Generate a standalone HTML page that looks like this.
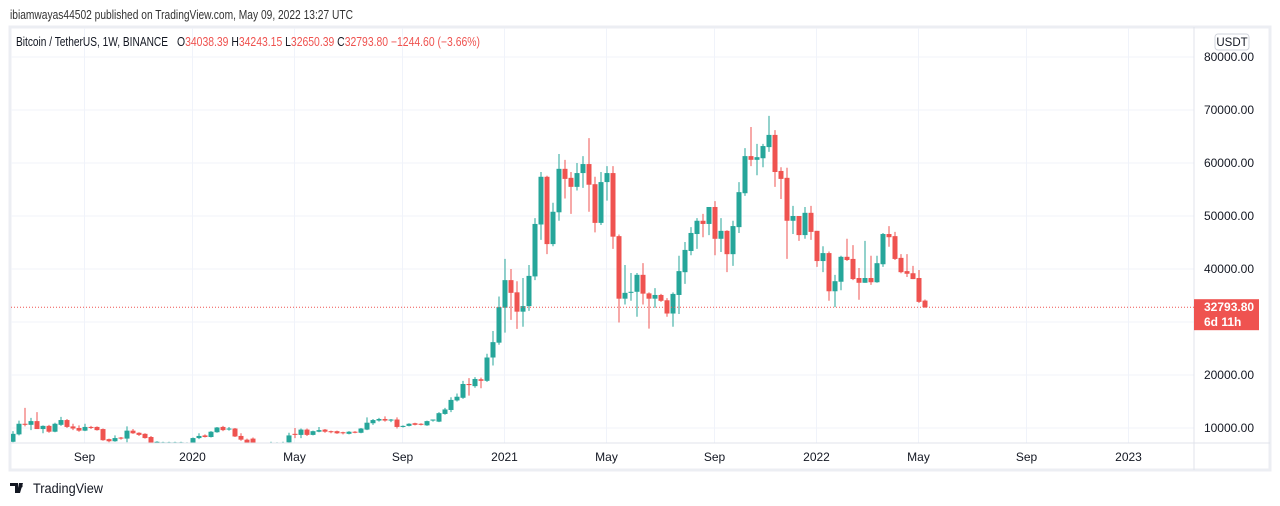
<!DOCTYPE html>
<html><head><meta charset="utf-8"><style>
body{margin:0;width:1280px;height:506px;background:#fff;font-family:"Liberation Sans",sans-serif;overflow:hidden}
</style></head><body>
<svg id="chart" width="1280" height="506" xmlns="http://www.w3.org/2000/svg" style="display:block">
<text x="10" y="19" font-size="12.5" fill="#333" textLength="343" lengthAdjust="spacingAndGlyphs">ibiamwayas44502 published on TradingView.com, May 09, 2022 13:27 UTC</text>
<rect x="10" y="27" width="1260" height="443" fill="#fff" stroke="#eceef3" stroke-width="3"/>
<g id="grid"></g>
<g id="candles"></g>
<line x1="1194" y1="27" x2="1194" y2="470" stroke="#e0e3eb"/>
<line x1="10" y1="443" x2="1270" y2="443" stroke="#e0e3eb"/>
<g id="yaxis"></g>
<g id="xaxis"></g>
<rect x="1215" y="34" width="34" height="16" rx="3" fill="#fff" stroke="#d1d4dc"/>
<text x="1232" y="46" font-size="11.5" fill="#131722" text-anchor="middle">USDT</text>
<text x="16" y="46" font-size="12.5" fill="#131722" textLength="152" lengthAdjust="spacingAndGlyphs">Bitcoin / TetherUS, 1W, BINANCE</text>
<text x="177" y="46" font-size="12.5" fill="#131722" textLength="303" lengthAdjust="spacingAndGlyphs">O<tspan fill="#ef5350">34038.39</tspan>  H<tspan fill="#ef5350">34243.15</tspan>  L<tspan fill="#ef5350">32650.39</tspan>  C<tspan fill="#ef5350">32793.80  −1244.60 (−3.66%)</tspan></text>
<g id="lastprice"></g>
<g>
<path d="M10 483h8v10h-3v-7h-5z M19 483h4l-3 10h-3z" fill="#131722"/>
<circle cx="21" cy="486" r="1.6" fill="#131722"/>
<text x="33" y="493" font-size="13.5" fill="#131722" textLength="70" lengthAdjust="spacingAndGlyphs">TradingView</text>
</g>
</svg>
<script>
const opens=[7.4,8.8,10.8,10.6,11.3,9.8,10.4,9.3,10.6,11.5,10.3,10.0,9.5,10.2,10.2,9.8,7.9,7.5,8.2,8.0,9.5,9.1,8.9,8.3,7.0,7.3,7.3,7.2,7.3,7.2,7.2,8.1,8.6,8.3,9.2,10.2,9.7,9.9,8.5,7.8,
8.0,5.4,5.8,5.9,6.8,6.9,7.3,8.9,8.7,9.7,8.7,9.3,9.7,9.4,9.4,9.2,8.9,9.3,9.1,9.7,10.9,11.4,11.7,11.4,11.6,10.2,10.4,10.9,10.8,10.5,
11.4,11.2,12.65,13.4,15.2,15.7,18.3,17.9,19.2,18.9,23.3,26.1,32.7,37.9,35.6,31.95,33.0,38.6,48.4,57.4,44.7,50.7,58.9,57.2,55.5,58.1,59.8,56.0,48.7,56.4,
58.1,46.2,34.4,35.5,35.7,38.9,35.4,34.4,35.1,34.1,31.6,35.1,39.4,43.4,46.6,49.1,48.5,51.7,45.7,47.2,42.8,47.9,54.3,61.3,60.6,60.9,63.0,65.3,58.5,57.2,
49.1,50.0,46.4,50.6,47.2,41.5,43.0,35.8,37.6,42.3,41.9,38.3,37.4,38.3,37.5,40.9,46.6,46.2,42.1,39.6,39.2,38.3,34.04];
const highs=[9.4,11.4,13.8,11.9,13.0,10.5,10.6,11.0,12.1,11.7,10.8,10.5,10.8,10.4,10.3,9.9,8.0,8.6,8.3,10.3,9.8,9.2,9.0,8.5,7.5,7.4,7.4,7.4,7.4,7.3,8.2,9.0,8.8,9.4,10.2,10.4,10.2,10.0,9.0,8.0,
8.2,6.0,6.5,7.4,7.3,7.4,9.1,10.0,9.9,9.9,9.5,10.2,9.8,9.5,9.5,9.3,9.4,9.4,10.0,12.0,11.7,11.9,12.2,11.7,12.0,10.5,10.9,11.0,10.9,11.4,
11.6,13.0,13.8,15.8,16.5,18.9,19.4,19.6,19.5,24.0,28.3,34.8,41.9,40.0,37.7,38.3,40.75,49.6,58.3,57.6,52.5,61.7,60.6,58.3,60.0,61.3,64.7,57.4,58.3,59.4,
59.4,46.5,40.75,39.25,39.25,41.1,35.6,36.4,35.3,34.5,35.6,42.5,45.1,47.9,49.6,50.4,51.7,52.8,49.6,47.3,49.1,56.4,62.8,66.8,63.6,63.6,68.9,66.2,59.2,59.1,
51.9,50.0,51.7,51.9,47.2,44.3,43.3,38.9,42.5,45.7,44.5,40.2,45.3,42.5,42.5,46.8,48.1,47.0,42.8,42.8,40.6,39.8,34.24];
const lows=[7.3,8.6,10.3,9.6,9.8,9.0,9.1,9.2,10.4,10.0,9.6,9.3,9.4,9.8,9.5,7.6,7.3,7.4,7.8,7.3,8.9,8.5,8.0,7.0,6.8,7.0,7.0,7.0,7.0,7.0,7.1,7.9,8.2,8.2,9.1,9.4,9.5,8.3,7.6,7.0,
4.0,4.5,5.6,5.8,6.6,6.6,7.1,8.1,8.1,8.5,8.6,9.2,9.1,9.0,8.9,8.8,8.8,9.0,9.0,9.6,10.6,11.2,11.2,11.1,9.9,10.1,10.3,10.5,10.5,10.4,
11.2,11.1,12.5,13.0,15.0,15.5,16.1,17.6,17.5,18.7,21.8,25.7,28.0,30.4,28.7,29.1,32.1,37.9,45.5,42.8,44.3,49.1,53.3,50.4,54.8,55.3,50.8,46.9,48.3,52.9,
43.8,29.9,33.3,34.0,31.0,33.3,28.75,32.7,33.8,31.0,29.1,31.5,37.2,42.6,43.8,46.0,46.4,42.6,43.2,39.4,40.6,46.8,53.8,59.4,57.7,59.2,62.1,55.5,53.2,41.9,
46.6,45.3,45.7,45.5,40.4,39.4,34.0,32.8,36.0,41.5,37.9,34.2,37.4,37.0,37.4,40.4,44.2,41.7,39.2,38.5,38.1,33.6,32.65];
const closes=[8.9,10.8,10.6,11.3,9.8,10.4,9.3,10.8,11.5,10.2,9.9,9.5,10.2,10.0,9.6,7.7,7.5,8.1,8.0,9.5,9.0,8.7,8.1,7.2,7.4,7.3,7.3,7.3,7.3,7.2,8.1,8.5,8.3,9.3,10.1,9.6,9.9,8.4,7.8,7.2,
5.4,5.8,5.9,6.8,6.9,7.1,8.6,8.7,9.7,8.7,9.4,9.6,9.3,9.2,9.0,9.0,9.3,9.1,9.9,11.0,11.5,11.7,11.4,11.6,10.2,10.4,10.8,10.6,10.6,11.3,
11.6,12.8,13.5,15.3,15.9,18.3,18.1,19.25,18.9,23.3,26.2,32.8,37.9,35.5,31.95,33.0,38.7,48.5,57.4,44.7,50.8,58.9,57.0,55.5,58.1,59.8,55.9,48.7,56.4,58.1,
46.1,34.4,35.5,35.7,38.9,35.35,34.4,35.1,34.0,31.6,35.3,39.6,43.6,46.8,49.1,48.5,51.7,45.7,47.2,42.8,48.1,54.5,61.3,60.6,61.1,63.2,65.3,58.3,57.0,49.1,
50.0,46.4,50.6,47.0,41.5,43.0,35.8,37.7,42.3,41.7,38.1,37.4,38.3,37.5,41.1,46.6,46.0,41.9,39.4,39.1,38.1,33.8,32.79];
const priceTicks=[10000,20000,30000,40000,50000,60000,70000,80000];
const priceLabels=["10000.00","20000.00","","40000.00","50000.00","60000.00","70000.00","80000.00"];
const timeTicks=[12,30,47,65,82,99,117,134,151,169,186];
const timeLabels=["Sep","2020","May","Sep","2021","May","Sep","2022","May","Sep","2023"];
const lastPrice=32793.80;

const NS="http://www.w3.org/2000/svg";
function yScale(p){return 428-(p-10000)*0.0053;}
function xScale(i){return 13+6*i;}
function mk(tag,attrs,parent){const e=document.createElementNS(NS,tag);for(const k in attrs)e.setAttribute(k,attrs[k]);parent.appendChild(e);return e;}
const grid=document.getElementById('grid'),yax=document.getElementById('yaxis'),xax=document.getElementById('xaxis');
priceTicks.forEach((p,j)=>{
  const y=yScale(p);
  const l=mk('line',{x1:11,x2:1194,y1:y,y2:y,stroke:'#f0f3fa'},grid);
  
  
  if(priceLabels[j]){const t=mk('text',{x:1254,y:y+4,'font-size':12,fill:'#131722','text-anchor':'end'},yax);t.textContent=priceLabels[j];
  
  }
});
timeTicks.forEach((w,j)=>{
  const x=xScale(w)-0.5;
  const l=mk('line',{x1:x,x2:x,y1:28,y2:443,stroke:'#f0f3fa'},grid);
  
  
  const t=mk('text',{x:x,y:461,'font-size':12,fill:'#131722','text-anchor':'middle'},xax);t.textContent=timeLabels[j];
  
  
});
const cg=document.getElementById('candles');
const clip=mk('clipPath',{id:'pc'},cg);mk('rect',{x:11,y:28,width:1183,height:415},clip);
cg.setAttribute('clip-path','url(#pc)');
for(let i=0;i<opens.length;i++){
  const o=opens[i]*1000,h=highs[i]*1000,l=lows[i]*1000,c=closes[i]*1000;
  const col=c>=o?'#26a69a':'#ef5350';const x=xScale(i);
  const g=mk('g',{},cg);
  
  
  mk('line',{x1:x,x2:x,y1:yScale(h),y2:yScale(l),stroke:col,'stroke-width':1},g);
  const top=Math.min(yScale(o),yScale(c));const ht=Math.max(1,Math.abs(yScale(o)-yScale(c)));
  mk('rect',{x:x-2.5,y:top,width:5,height:ht,fill:col},g);
}
const lp=document.getElementById('lastprice');const ly=yScale(lastPrice);
const ln=mk('line',{x1:11,x2:1194,y1:ly,y2:ly,stroke:'#ef5350','stroke-dasharray':'1 2'},lp);


const bx=mk('rect',{x:1194,y:ly-8,width:65,height:31,fill:'#ef5350'},lp);


const t1=mk('text',{x:1204,y:ly+4,'font-size':12,fill:'#fff','font-weight':'bold'},lp);t1.textContent=lastPrice.toFixed(2);


const t2=mk('text',{x:1204,y:ly+19,'font-size':12,fill:'#fff','font-weight':'bold'},lp);t2.textContent='6d 11h';


</script>
</body></html>
